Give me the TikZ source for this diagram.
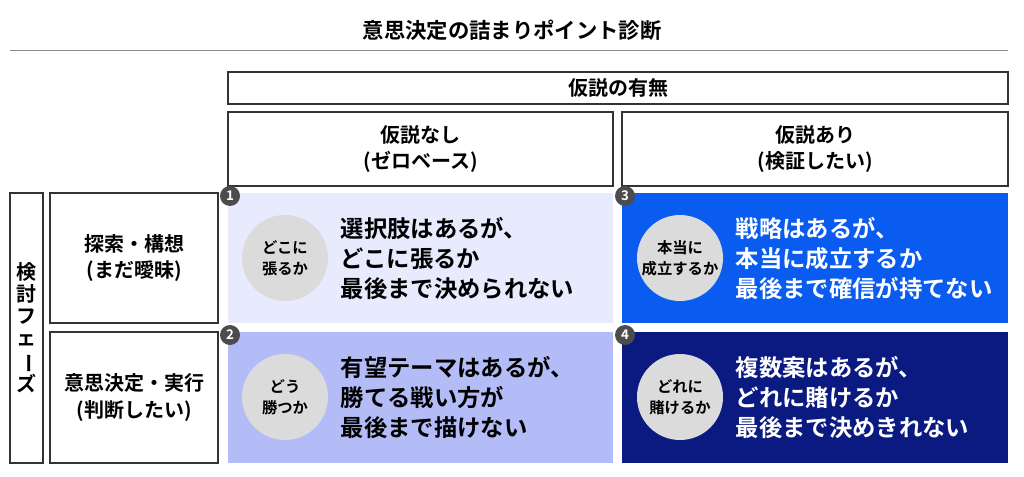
\documentclass[tikz,border=0pt]{standalone}
\usepackage{fontspec}
\setmainfont{Noto Sans CJK JP}[BoldFont={Noto Sans CJK JP Bold}]
\begin{document}
\begin{tikzpicture}[x=0.75pt,y=-0.75pt,
  box/.style={draw=black!80,line width=0.8pt},
  hd/.style={font=\fontsize{15}{20}\selectfont\bfseries,align=center},
  main/.style={font=\fontsize{17.5}{22.5}\selectfont\bfseries,align=left,anchor=west},
  circ/.style={circle,fill=black!14,minimum size=64.5pt,inner sep=0pt,font=\fontsize{11.5}{16}\selectfont\bfseries,align=center,text=black},
  badge/.style={circle,fill=black!70,minimum size=15pt,inner sep=0pt,text=white,font=\fontsize{10}{10}\selectfont\bfseries}]
\useasboundingbox (0,0) rectangle (1024,477);
\definecolor{c1}{HTML}{E8EAFD}\definecolor{c2}{HTML}{0A5CF0}
\definecolor{c3}{HTML}{B3BCF7}\definecolor{c4}{HTML}{0A1A80}
\node[font=\fontsize{16}{20}\selectfont\bfseries] (title) at (512,30) {意思決定の詰まりポイント診断};
\draw[black!45,line width=0.6pt] (10,50) -- (1008,50);
\node[box,minimum width=585pt,minimum height=24pt,hd] (h) at (618,88) {仮説の有無};
\node[box,minimum width=288.75pt,minimum height=55.5pt,hd] (h1) at (420.5,149) {仮説なし\\(ゼロベース)};
\node[box,minimum width=289.5pt,minimum height=55.5pt,hd] (h2) at (815,149) {仮説あり\\(検証したい)};
\node[box,minimum width=24.75pt,minimum height=202.5pt] (v) at (26.5,328) {};
\node[font=\fontsize{15}{16.5}\selectfont\bfseries,align=center,inner sep=0pt] (vt) at (26.5,328) {検\\討\\フ\\ェ\\\rotatebox[origin=c]{-90}{ー}\\ズ};
\node[box,minimum width=126pt,minimum height=97.5pt,hd] (r1) at (134,258) {探索・構想\\(まだ曖昧)};
\node[box,minimum width=126pt,minimum height=98.25pt,hd] (r2) at (134,397.5) {意思決定・実行\\(判断したい)};
\fill[c1] (228,193) rectangle (613,323);
\fill[c2] (622,193) rectangle (1008,323);
\fill[c3] (228,332) rectangle (613,463);
\fill[c4] (622,332) rectangle (1008,463);
\node[circ] (k1) at (285,258) {どこに\\張るか};
\node[circ] (k2) at (680,258) {本当に\\成立するか};
\node[circ] (k3) at (285,397) {どう\\勝つか};
\node[circ] (k4) at (680,397) {どれに\\賭けるか};
\node[main] (t1) at (336,258) {選択肢はあるが、\\どこに張るか\\最後まで決められない};
\node[main,text=white] (t2) at (731,258) {戦略はあるが、\\本当に成立するか\\最後まで確信が持てない};
\node[main] (t3) at (336,397) {有望テーマはあるが、\\勝てる戦い方が\\最後まで描けない};
\node[main,text=white] (t4) at (731,397) {複数案はあるが、\\どれに賭けるか\\最後まで決めきれない};
\node[badge] (b1) at (230,196) {1};
\node[badge] (b2) at (625,196) {3};
\node[badge] (b3) at (230,335) {2};
\node[badge] (b4) at (625,335) {4};
\end{tikzpicture}
\end{document}
